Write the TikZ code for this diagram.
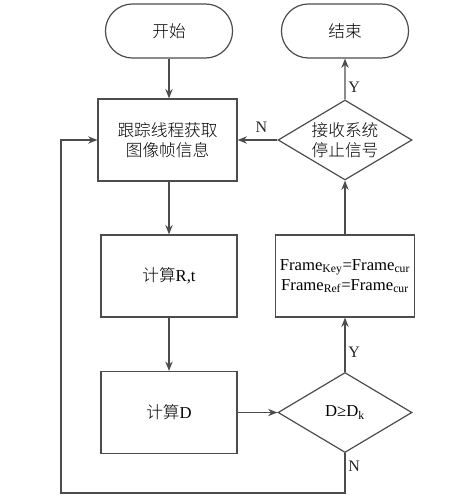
\documentclass[tikz,border=0pt]{standalone}
\usepackage{fontspec}
\setmainfont{Liberation Serif}
\newfontfamily\cjk{Noto Sans CJK SC}[UprightFont=* Light]
\usepackage{tikz}
\usetikzlibrary{arrows.meta,shapes.misc,shapes.geometric}
\tikzset{
	terminal/.style={rounded rectangle,draw=black!70,line width=0.9pt,minimum width=102pt,minimum height=40.5pt,font=\fontsize{12.5}{15}\selectfont},%
	process/.style={rectangle,draw=black!70,line width=0.9pt,minimum width=102pt,minimum height=61.5pt,align=center,font=\fontsize{12.5}{15}\selectfont},%
	decision/.style={diamond,aspect=1.675,inner sep=0pt,draw=black!70,line width=0.9pt,minimum width=100.5pt,minimum height=60pt,align=center,font=\fontsize{12.5}{15}\selectfont},%
	flow/.style={draw=black!70,line width=0.9pt,-{Stealth[length=7pt,width=5.5pt]}},%
	answer/.style={text=black!85,font=\fontsize{12}{14}\selectfont,inner sep=2pt},%
}

\begin{document}
\begin{tikzpicture}[x=0.75pt,y=-0.75pt]
		\useasboundingbox (0,0) rectangle (471,498);
		% Left column {{{
		\node[terminal] (start) at (169,31) {\cjk 开始};
		\node[process,minimum width=104.25pt] (track) at (167.5,140) {\cjk 跟踪线程获取\\\cjk 图像帧信息};
		\node[process] (calcRt) at (169,276) {{\cjk 计算}R,t};
		\node[process] (calcD) at (169,412.5) {{\cjk 计算}D};
		% }}}
		% Right column {{{
		\node[terminal] (finish) at (345,31) {\cjk 结束};
		\node[decision] (stopsig) at (345,140) {\cjk 接收系统\\\cjk 停止信号};
		\node[process] (update) at (345,276) {Frame\textsubscript{Key}=Frame\textsubscript{cur}\\Frame\textsubscript{Ref}=Frame\textsubscript{cur}};
		\node[decision] (checkD) at (345,412.5) {D≥D\textsubscript{k}};
		% }}}
		\coordinate (loop) at (61,493);
		\draw[flow] (start.south) -- (start.south |- track.north);
		\draw[flow] (track.south -| calcRt.north) -- (calcRt.north);
		\draw[flow] (calcRt) -- (calcD);
		\draw[flow] (calcD) -- (checkD);
		\draw[flow] (checkD) -- node[answer,pos=0.36,right] {Y} (update);
		\draw[flow] (update) -- (stopsig);
		\draw[flow] (stopsig) -- node[answer,pos=0.3,right] {Y} (finish);
		\draw[flow] (stopsig) -- node[answer,pos=0.4,above=3pt] {N} (track);
		\draw[flow] (checkD.south) -- node[answer,pos=0.33,right] {N} (checkD.south |- loop) -- (loop) |- (track.west);
	\end{tikzpicture}
\end{document}
